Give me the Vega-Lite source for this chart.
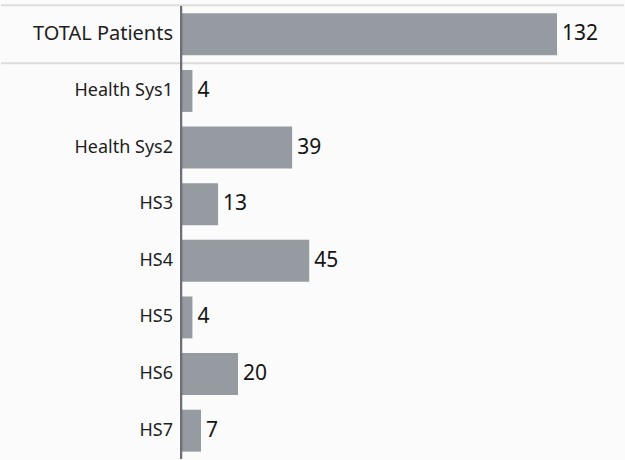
{
  "$schema": "https://vega.github.io/schema/vega-lite/v6.json",
  "width": 625,
  "height": 460,
  "autosize": {"type": "fit", "contains": "padding"},
  "padding": {"top": 4, "left": 0, "right": 0, "bottom": 0},
  "background": "#fbfbfb",
  "config": {"view": {"stroke": null}},
  "data": {
    "values": [
      {"label": "TOTAL Patients", "patients": 132},
      {"label": "Health Sys1", "patients": 4},
      {"label": "Health Sys2", "patients": 39},
      {"label": "HS3", "patients": 13},
      {"label": "HS4", "patients": 45},
      {"label": "HS5", "patients": 4},
      {"label": "HS6", "patients": 20},
      {"label": "HS7", "patients": 7}
    ]
  },
  "layer": [
    {
      "transform": [{"filter": "datum.label === 'TOTAL Patients'"}],
      "mark": {"type": "rule", "color": "#dcdcdc", "strokeWidth": 2, "yOffset": -8},
      "encoding": {
        "y": {
          "field": "label",
          "type": "nominal",
          "bandPosition": 0,
          "axis": null,
          "scale": {
            "domain": ["TOTAL Patients", "Health Sys1", "Health Sys2", "HS3", "HS4", "HS5", "HS6", "HS7"],
            "paddingInner": 0.26,
            "paddingOuter": 0.13
          }
        }
      }
    },
    {
      "transform": [{"filter": "datum.label === 'TOTAL Patients'"}],
      "mark": {"type": "rule", "color": "#dcdcdc", "strokeWidth": 2, "yOffset": 8},
      "encoding": {"y": {"field": "label", "type": "nominal", "bandPosition": 1}}
    },
    {
      "mark": {"type": "bar", "color": "#969aa1"},
      "encoding": {
        "y": {"field": "label", "type": "nominal"},
        "x": {
          "field": "patients",
          "type": "quantitative",
          "axis": null,
          "scale": {"domain": [-63.2, 155.5], "nice": false, "zero": false}
        },
        "x2": {"datum": 0}
      }
    },
    {
      "mark": {"type": "rule", "color": "#6e7075", "strokeWidth": 2},
      "encoding": {
        "x": {"datum": 0, "type": "quantitative"}
      }
    },
    {
      "mark": {
        "type": "text",
        "align": "right",
        "baseline": "middle",
        "dx": -8,
        "font": "Noto Sans",
        "color": "#1e1e1e"
      },
      "encoding": {
        "y": {"field": "label", "type": "nominal"},
        "x": {"datum": 0, "type": "quantitative"},
        "text": {"field": "label"},
        "size": {
          "condition": {"test": "datum.label === 'TOTAL Patients'", "value": 20},
          "value": 18
        }
      }
    },
    {
      "mark": {
        "type": "text",
        "align": "left",
        "baseline": "middle",
        "dx": 5,
        "font": "Noto Sans",
        "fontSize": 21,
        "color": "#151515"
      },
      "encoding": {
        "y": {"field": "label", "type": "nominal"},
        "x": {"field": "patients", "type": "quantitative"},
        "text": {"field": "patients"}
      }
    }
  ]
}
